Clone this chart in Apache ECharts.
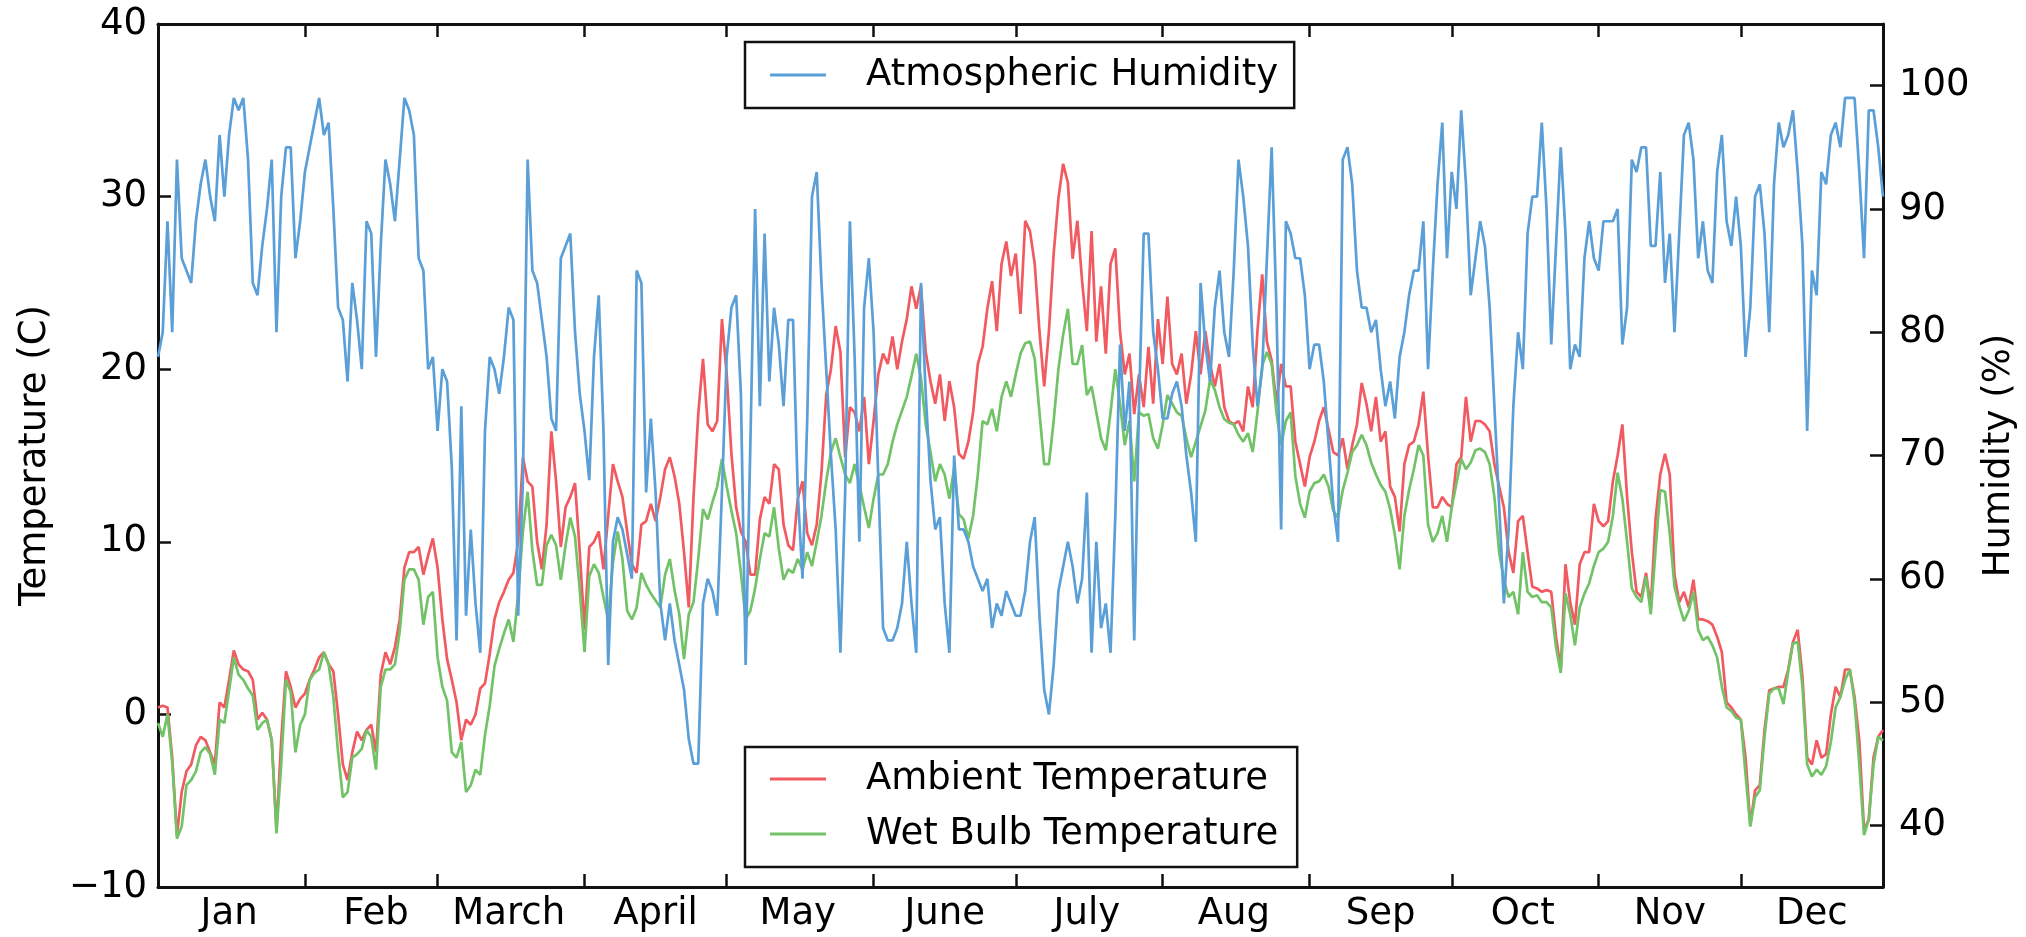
<!DOCTYPE html>
<html>
<head>
<meta charset="utf-8">
<script src="https://cdn.jsdelivr.net/npm/echarts@6/dist/echarts.min.js"></script>
<style>
html,body{margin:0;padding:0;background:#fff;}
#chart{width:2026px;height:937px;}
</style>
</head>
<body>
<div id="chart"></div>
<script>
// ---------- data ----------
const monthNames = ['Jan','Feb','March','April','May','June','July','Aug','Sep','Oct','Nov','Dec'];
const monthStarts = [0,31,59,90,120,151,181,212,243,273,304,334];
const monthBoundaries = [31,59,90,120,151,181,212,243,273,304,334];
const tempTicks = [-10,0,10,20,30,40];
const humidityTicks = [40,50,60,70,80,90,100];

const humidity = [
78,80,89,80,94,86,85,84,89,92,
94,91,89,96,91,96,99,98,99,94,
84,83,87,90,94,80,91,95,95,86,
89,93,95,97,99,96,97,90,82,81,
76,84,81,77,89,88,78,87,94,92,
89,94,99,98,96,86,85,77,78,72,
77,76,69,55,74,57,64,58,54,72,
78,77,75,78,82,81,57,68,94,85,
84,81,78,73,72,86,87,88,80,75,
72,68,78,83,72,53,63,65,64,62,
60,85,84,67,73,67,58,55,58,55,
53,51,47,45,45,58,60,59,57,67,
78,82,83,75,53,71,90,74,88,76,
82,79,74,81,81,67,60,73,91,93,
84,77,70,64,54,67,89,78,63,82,
86,80,68,56,55,55,56,58,63,58,
54,84,75,68,64,65,58,54,70,64,
64,63,61,60,59,60,56,58,57,59,
58,57,57,59,63,65,57,51,49,53,
59,61,63,61,58,60,67,54,63,56,
58,54,65,79,72,76,55,74,88,88,
80,77,73,73,75,76,74,70,67,63,
84,79,76,82,85,80,78,85,94,91,
87,79,74,77,86,95,82,64,89,88,
86,86,83,77,79,79,76,71,66,63,
94,95,92,85,82,82,80,81,77,74,
76,73,78,80,83,85,85,89,77,85,
92,97,86,93,90,98,92,83,86,89,
87,82,74,66,58,64,74,80,77,88,
91,91,97,90,79,87,95,88,77,79,
78,86,89,86,85,89,89,89,90,79,
82,94,93,95,95,87,87,93,84,88,
80,88,96,97,94,86,89,85,84,93,
96,89,87,91,87,78,82,91,92,88,
80,92,97,95,96,98,93,87,72,85,
83,93,92,96,97,95,99,99,99,93,
86,98,98,95,91];

const ambient = [
0.4,0.5,0.4,-2.5,-7.0,-4.5,-3.3,-2.9,-1.8,-1.3,
-1.5,-2.2,-2.9,0.7,0.4,2.0,3.7,2.9,2.6,2.5,
2.0,-0.3,0.1,-0.3,-1.5,-6.7,-1.5,2.5,1.6,0.4,
0.9,1.2,2.0,2.6,3.3,3.6,2.9,2.5,0.0,-2.9,
-3.8,-2.2,-1.0,-1.5,-0.9,-0.6,-2.2,2.3,3.6,2.9,
3.9,5.5,8.5,9.4,9.4,9.7,8.1,9.2,10.2,8.5,
5.5,3.2,2.0,0.7,-1.5,-0.3,-0.6,0.0,1.5,1.8,
3.5,5.5,6.5,7.1,7.8,8.2,10.0,14.9,13.5,13.2,
10.0,8.4,11.0,16.4,13.5,9.7,12.0,12.6,13.4,9.4,
4.9,9.7,10.0,10.6,8.4,11.5,14.5,13.5,12.6,10.6,
8.7,8.2,11.0,11.2,12.2,11.2,12.6,14.2,14.9,13.8,
12.2,9.4,6.2,12.6,17.4,20.6,16.8,16.4,17.0,22.9,
19.7,15.1,12.0,10.6,10.0,8.1,8.1,11.3,12.6,12.2,
14.5,14.2,11.0,9.8,9.5,12.5,13.5,10.5,9.8,11.0,
14.0,18.5,20.0,22.5,21.0,14.9,17.8,17.5,16.4,18.4,
14.5,17.0,19.7,20.9,20.3,21.9,20.0,21.6,22.9,24.8,
23.5,24.8,21.0,19.3,18.0,19.7,17.0,19.3,17.8,15.1,
14.8,15.8,17.5,20.3,21.3,23.5,25.1,22.2,26.1,27.4,
25.4,26.7,23.2,28.6,28.0,26.1,22.2,19.0,22.2,26.7,
29.9,31.9,30.8,26.4,28.6,25.1,22.2,28.0,21.6,24.8,
20.9,26.1,27.0,22.2,19.7,20.9,17.4,19.7,17.8,21.3,
18.0,22.9,20.3,24.2,20.3,19.7,20.9,18.0,19.7,22.2,
19.7,22.2,20.3,19.0,20.3,17.8,17.0,16.8,17.0,16.4,
19.0,17.8,22.2,25.5,21.6,20.5,18.0,20.3,19.0,19.0,
15.8,14.5,13.2,14.9,15.8,17.0,17.8,16.5,15.2,15.0,
16.0,14.2,15.6,16.8,19.2,18.0,16.4,18.4,15.8,16.4,
13.2,12.6,10.6,14.5,15.6,15.8,16.8,18.7,15.0,12.0,
12.0,12.6,12.2,12.0,14.5,14.9,18.4,15.8,17.0,17.0,
16.8,16.4,14.5,13.2,12.0,9.4,8.2,11.2,11.5,9.4,
7.4,7.3,7.1,7.2,7.1,4.5,2.6,8.7,6.5,5.2,
8.7,9.4,9.4,12.2,11.2,10.9,11.2,13.5,15.0,16.8,
12.6,9.4,7.1,6.8,8.2,6.2,11.3,13.9,15.1,13.9,
8.1,6.5,7.1,6.2,7.8,5.5,5.5,5.4,5.2,4.5,
3.6,0.7,0.4,0.0,-0.3,-2.5,-6.4,-4.4,-4.1,-0.9,
1.4,1.5,1.6,1.6,2.6,4.2,4.9,2.2,-2.5,-2.9,
-1.5,-2.5,-2.3,0.0,1.6,1.0,2.6,2.6,1.0,-1.5,
-6.7,-6.1,-2.5,-1.3,-0.9];

const wetBulb = [
-0.5,-1.3,0.0,-2.8,-7.2,-6.5,-4.1,-3.8,-3.3,-2.2,
-1.9,-2.3,-3.5,-0.3,-0.5,1.4,3.3,2.3,2.0,1.5,
1.1,-0.9,-0.5,-0.3,-1.5,-6.9,-2.9,2.0,1.3,-2.2,
-0.6,0.0,2.0,2.4,2.6,3.6,2.9,1.0,-2.2,-4.8,
-4.5,-2.5,-2.3,-2.0,-0.9,-1.3,-3.2,1.6,2.6,2.6,
2.9,4.8,7.8,8.4,8.4,7.8,5.2,6.8,7.1,3.3,
1.6,0.8,-2.2,-2.5,-1.6,-4.5,-4.1,-3.2,-3.5,-1.2,
0.5,2.8,3.8,4.7,5.5,4.2,7.0,10.6,12.9,9.5,
7.5,7.5,9.8,10.4,9.8,7.8,9.8,11.4,10.3,7.2,
3.6,8.0,8.7,8.2,6.8,5.5,8.8,10.6,9.0,6.0,
5.5,6.2,8.2,7.5,7.0,6.6,6.2,8.1,9.0,7.2,
5.8,3.2,5.8,6.5,9.0,11.9,11.3,12.3,13.2,14.8,
13.2,11.8,10.5,8.2,5.5,6.0,7.3,9.0,10.5,10.3,
12.0,9.6,7.8,8.4,8.2,9.0,8.4,9.4,8.6,10.0,
11.5,13.5,15.2,16.0,14.9,13.9,13.4,14.5,13.3,12.0,
10.8,12.5,13.9,13.9,14.5,15.8,16.8,17.6,18.4,19.6,
20.9,19.5,16.8,15.2,13.5,14.5,13.9,12.5,14.3,11.6,
11.3,10.2,11.5,13.9,17.0,16.8,17.7,16.4,18.4,19.3,
18.4,19.7,20.9,21.5,21.6,20.6,17.5,14.5,14.5,17.0,
20.0,22.0,23.5,20.3,20.3,21.4,18.5,19.0,17.5,16.0,
15.3,17.5,20.0,18.0,15.6,17.0,13.5,17.5,17.3,17.4,
16.0,15.4,16.8,18.5,18.0,17.5,17.3,16.0,14.9,15.8,
16.7,17.6,19.4,18.8,17.8,17.1,16.9,16.8,16.2,15.8,
16.3,15.2,17.5,20.2,21.0,20.3,17.5,15.6,17.0,17.5,
13.8,12.2,11.4,12.9,13.4,13.5,13.9,13.2,11.8,11.4,
13.0,14.0,15.2,15.6,16.2,15.6,14.6,13.9,13.3,12.9,
11.9,10.4,8.4,11.5,13.0,14.2,15.6,15.0,11.0,10.0,
10.5,11.5,10.0,12.0,13.4,14.8,14.2,14.6,15.3,15.4,
15.2,14.5,12.6,9.4,7.8,6.8,7.1,5.8,9.4,7.1,
6.8,6.9,6.5,6.5,6.2,3.9,2.4,7.0,5.8,4.0,
6.2,7.0,7.6,8.6,9.4,9.6,10.0,11.5,14.0,12.5,
10.0,7.3,6.8,6.5,8.0,5.8,9.5,13.0,12.9,10.5,
7.4,6.3,5.4,6.0,7.1,4.9,4.3,4.5,4.0,3.3,
1.6,0.4,0.2,-0.2,-0.3,-3.5,-6.5,-4.8,-4.4,-1.3,
1.2,1.5,1.5,0.6,2.5,4.1,4.2,1.6,-2.9,-3.6,
-3.2,-3.5,-3.0,-1.6,0.4,1.0,2.0,2.6,0.7,-2.9,
-7.0,-6.1,-2.9,-1.3,-1.5];

// ---------- chart ----------
const FONT = 'DejaVu Sans';
const FS = 37;
const labelPos = monthStarts.map(s => s + 15);
const toPairs = arr => arr.map((v, i) => [i, v]);
const spine = {show: true, onZero: false, lineStyle: {color: '#111', width: 3}};
const tickStyle = {color: '#111', width: 2.5};

const chart = echarts.init(document.getElementById('chart'), null, {renderer: 'canvas'});
chart.setOption({
  animation: false,
  backgroundColor: '#ffffff',
  textStyle: {fontFamily: FONT},
  grid: {left: 158, right: 140, top: 24, bottom: 50, containLabel: false},
  xAxis: [
    {
      type: 'value', min: 0, max: 364, position: 'bottom',
      axisLine: spine,
      axisTick: {show: true, inside: true, length: 13, lineStyle: tickStyle, customValues: monthBoundaries},
      axisLabel: {
        show: true, customValues: labelPos,
        formatter: v => { const i = labelPos.indexOf(v); return i >= 0 ? monthNames[i] : ''; },
        color: '#000', fontFamily: FONT, fontSize: FS, margin: 9
      },
      splitLine: {show: false}
    },
    {
      type: 'value', min: 0, max: 364, position: 'top',
      axisLine: spine,
      axisTick: {show: true, inside: true, length: 13, lineStyle: tickStyle, customValues: monthBoundaries},
      axisLabel: {show: false},
      splitLine: {show: false}
    }
  ],
  yAxis: [
    {
      type: 'value', min: -10, max: 40, interval: 10, position: 'left',
      name: 'Temperature (C)', nameLocation: 'middle', nameGap: 104, nameRotate: 90,
      nameTextStyle: {color: '#000', fontFamily: FONT, fontSize: FS},
      axisLine: spine,
      axisTick: {show: true, inside: true, length: 13, lineStyle: tickStyle, customValues: tempTicks},
      axisLabel: {
        color: '#000', fontFamily: FONT, fontSize: FS, margin: 11,
        customValues: tempTicks,
        formatter: v => (v < 0 ? '\u2212' + Math.abs(v) : String(v))
      },
      splitLine: {show: false}
    },
    {
      type: 'value', min: 35, max: 105, position: 'right',
      name: 'Humidity (%)', nameLocation: 'middle', nameGap: 98, nameRotate: 90,
      nameTextStyle: {color: '#000', fontFamily: FONT, fontSize: FS},
      axisLine: spine,
      axisTick: {show: true, inside: true, length: 13, lineStyle: tickStyle, customValues: humidityTicks},
      axisLabel: {color: '#000', fontFamily: FONT, fontSize: FS, margin: 16, customValues: humidityTicks},
      splitLine: {show: false}
    }
  ],
  legend: [
    {
      data: ['Atmospheric Humidity'], orient: 'vertical', left: 745, top: 42,
      selectedMode: false, icon: 'rect', itemWidth: 56, itemHeight: 3,
      backgroundColor: '#fff', borderColor: '#111', borderWidth: 2.5, borderRadius: 0,
      padding: [12, 16, 12, 25],
      textStyle: {color: '#000', fontFamily: FONT, fontSize: FS, lineHeight: 42, padding: [0, 0, 0, 35]}
    },
    {
      data: ['Ambient Temperature', 'Wet Bulb Temperature'], orient: 'vertical', left: 745, top: 747,
      selectedMode: false, icon: 'rect', itemWidth: 56, itemHeight: 3, itemGap: 13,
      backgroundColor: '#fff', borderColor: '#111', borderWidth: 2.5, borderRadius: 0,
      padding: [11, 19, 12, 25],
      textStyle: {color: '#000', fontFamily: FONT, fontSize: FS, lineHeight: 42, padding: [0, 0, 0, 35]}
    }
  ],
  series: [
    {
      name: 'Ambient Temperature', type: 'line', xAxisIndex: 0, yAxisIndex: 0,
      data: toPairs(ambient), showSymbol: false, symbol: 'none',
      lineStyle: {color: '#F15A60', width: 2.7}, itemStyle: {color: '#F15A60'}, z: 2
    },
    {
      name: 'Wet Bulb Temperature', type: 'line', xAxisIndex: 0, yAxisIndex: 0,
      data: toPairs(wetBulb), showSymbol: false, symbol: 'none',
      lineStyle: {color: '#72C267', width: 2.7}, itemStyle: {color: '#72C267'}, z: 3
    },
    {
      name: 'Atmospheric Humidity', type: 'line', xAxisIndex: 0, yAxisIndex: 1,
      data: toPairs(humidity), showSymbol: false, symbol: 'none',
      lineStyle: {color: '#5A9FD8', width: 2.7}, itemStyle: {color: '#5A9FD8'}, z: 4
    }
  ]
});
</script>
</body>
</html>
